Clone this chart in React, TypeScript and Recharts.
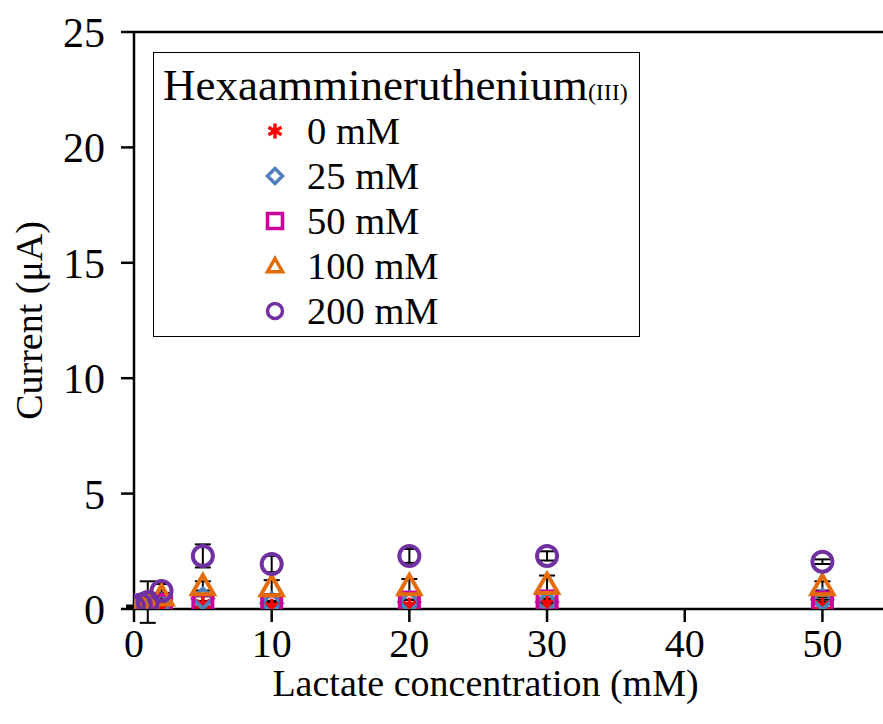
import React from 'react'
import {
  ScatterChart,
  Scatter,
  XAxis,
  YAxis,
  ErrorBar,
  ReferenceLine,
} from 'recharts'

const FONT = '"Liberation Serif", "Times New Roman", serif'

const concentrations = [0, 0.5, 1, 2, 5, 10, 20, 30, 50]

const current0 = [0.02, 0.03, 0.05, 0.1, 0.2, 0.1, 0.15, 0.25, 0.15]
const error0 = [0.02, 0.02, 0.02, 0.05, 0.1, 0.05, 0.1, 0.1, 0.1]
const current25 = [0.05, 0.08, 0.1, 0.2, 0.45, 0.25, 0.3, 0.3, 0.4]
const error25 = [0.03, 0.03, 0.05, 0.05, 0.1, 0.1, 0.1, 0.1, 0.1]
const current50 = [0.1, 0.12, 0.15, 0.2, 0.2, 0.18, 0.3, 0.35, 0.3]
const error50 = [0.03, 0.03, 0.05, 0.05, 0.1, 0.1, 0.1, 0.1, 0.1]
const current100 = [0.05, 0.1, 0.2, 0.55, 1.0, 0.95, 1.0, 1.05, 1.0]
const error100 = [0.05, 0.05, 0.05, 0.15, 0.2, 0.3, 0.3, 0.4, 0.2]
const current200 = [0.1, 0.2, 0.3, 0.78, 2.3, 1.95, 2.3, 2.3, 2.05]
const error200 = [0.05, 0.1, 0.9, 0.3, 0.5, 0.35, 0.3, 0.2, 0.1]

const xTicks = [0, 10, 20, 30, 40, 50]
const yTicks = [0, 5, 10, 15, 20, 25]

const toPoints = (ys: number[], errs: number[]) =>
  concentrations.map((x, i) => ({ x, y: ys[i], err: errs[i] }))

const RED = '#FF0000'
const BLUE = '#4F81BD'
const MAGENTA = '#CC0099'
const ORANGE = '#E36C09'
const PURPLE = '#7030A0'

// marker drawings, s = half size
const Asterisk = ({ cx, cy, s = 8, color = RED }: any) => (
  <g stroke={color} strokeWidth={3.5}>
    <line x1={cx} y1={cy - s} x2={cx} y2={cy + s} />
    <line x1={cx - s * 0.87} y1={cy - s / 2} x2={cx + s * 0.87} y2={cy + s / 2} />
    <line x1={cx - s * 0.87} y1={cy + s / 2} x2={cx + s * 0.87} y2={cy - s / 2} />
  </g>
)
const Diamond = ({ cx, cy, s = 10, w = 4, color = BLUE }: any) => (
  <polygon
    points={`${cx},${cy - s} ${cx + s},${cy} ${cx},${cy + s} ${cx - s},${cy}`}
    fill="none"
    stroke={color}
    strokeWidth={w}
  />
)
const Square = ({ cx, cy, s = 9.5, w = 4, color = MAGENTA }: any) => (
  <rect x={cx - s} y={cy - s} width={s * 2} height={s * 2} fill="none" stroke={color} strokeWidth={w} />
)
const Triangle = ({ cx, cy, s = 11, w = 4, color = ORANGE }: any) => (
  <polygon
    points={`${cx},${cy - s} ${cx + s},${cy + s * 0.75} ${cx - s},${cy + s * 0.75}`}
    fill="none"
    stroke={color}
    strokeWidth={w}
  />
)
const Ring = ({ cx, cy, s = 10, w = 4, color = PURPLE }: any) => (
  <circle cx={cx} cy={cy} r={s} fill="none" stroke={color} strokeWidth={w} />
)

const series = [
  { name: '0 mM', data: toPoints(current0, error0), Shape: Asterisk, color: RED },
  { name: '25 mM', data: toPoints(current25, error25), Shape: Diamond, color: BLUE },
  { name: '50 mM', data: toPoints(current50, error50), Shape: Square, color: MAGENTA },
  { name: '100 mM', data: toPoints(current100, error100), Shape: Triangle, color: ORANGE },
  { name: '200 mM', data: toPoints(current200, error200), Shape: Ring, color: PURPLE },
]

const LegendBox = () => (
  <div
    style={{
      position: 'absolute',
      left: 153,
      top: 52,
      width: 487,
      height: 285,
      border: '1.5px solid #000',
      background: '#fff',
      fontFamily: FONT,
      color: '#000',
      boxSizing: 'border-box',
    }}
  >
    <div style={{ fontSize: 45, lineHeight: '48px', paddingLeft: 9, paddingTop: 8, whiteSpace: 'nowrap' }}>
      Hexaammineruthenium<span style={{ fontSize: 24 }}>(III)</span>
    </div>
    <div style={{ paddingLeft: 108, marginTop: -8 }}>
      {series.map(({ name, Shape, color }) => (
        <div key={name} style={{ display: 'flex', alignItems: 'center', height: 45 }}>
          <svg width={26} height={26} style={{ marginRight: 19 }}>
            <Shape cx={13} cy={13} s={7.5} w={3.5} color={color} />
          </svg>
          <span style={{ fontSize: 38.5 }}>{name}</span>
        </div>
      ))}
    </div>
  </div>
)

const XTitle = ({ viewBox }: any) => (
  <text
    x={viewBox.x + viewBox.width / 2 - 23}
    y={viewBox.y + 87}
    textAnchor="middle"
    fill="#000"
    fontSize={38}
    fontFamily={FONT}
  >
    Lactate concentration (mM)
  </text>
)

export default function App() {
  return (
    <div style={{ position: 'absolute', left: 0, top: 0, width: 883, height: 724, background: '#fff' }}>
      <ScatterChart width={883} height={724} margin={{ top: 32, right: 0, bottom: 0, left: 0 }}>
        <XAxis
          type="number"
          dataKey="x"
          domain={[0, 54.4]}
          ticks={xTicks}
          allowDataOverflow
          tickSize={13}
          tickMargin={7}
          axisLine={{ stroke: '#000', strokeWidth: 2.5 }}
          tickLine={{ stroke: '#000', strokeWidth: 2.5 }}
          tick={{ fill: '#000', fontSize: 40, fontFamily: FONT }}
          height={115}
          label={<XTitle />}
        />
        <YAxis
          type="number"
          dataKey="y"
          domain={[0, 25]}
          ticks={yTicks}
          allowDataOverflow
          tickSize={13}
          tickMargin={16}
          width={134}
          axisLine={{ stroke: '#000', strokeWidth: 2.5 }}
          tickLine={{ stroke: '#000', strokeWidth: 2.5 }}
          tick={{ fill: '#000', fontSize: 42, fontFamily: FONT }}
          label={{
            value: 'Current (μA)',
            angle: -90,
            position: 'insideLeft',
            offset: 29,
            fill: '#000',
            fontSize: 38,
            fontFamily: FONT,
            style: { textAnchor: 'middle' },
          }}
        />
        <ReferenceLine y={25} stroke="#000" strokeWidth={2.5} />
        {series.map(({ name, data, Shape }) => (
          <Scatter
            key={name}
            name={name}
            data={data}
            isAnimationActive={false}
            shape={(p: any) => <Shape cx={p.cx} cy={p.cy} />}
          >
            <ErrorBar dataKey="err" direction="y" width={8} stroke="#000" strokeWidth={2} />
          </Scatter>
        ))}
      </ScatterChart>
      <LegendBox />
    </div>
  )
}
